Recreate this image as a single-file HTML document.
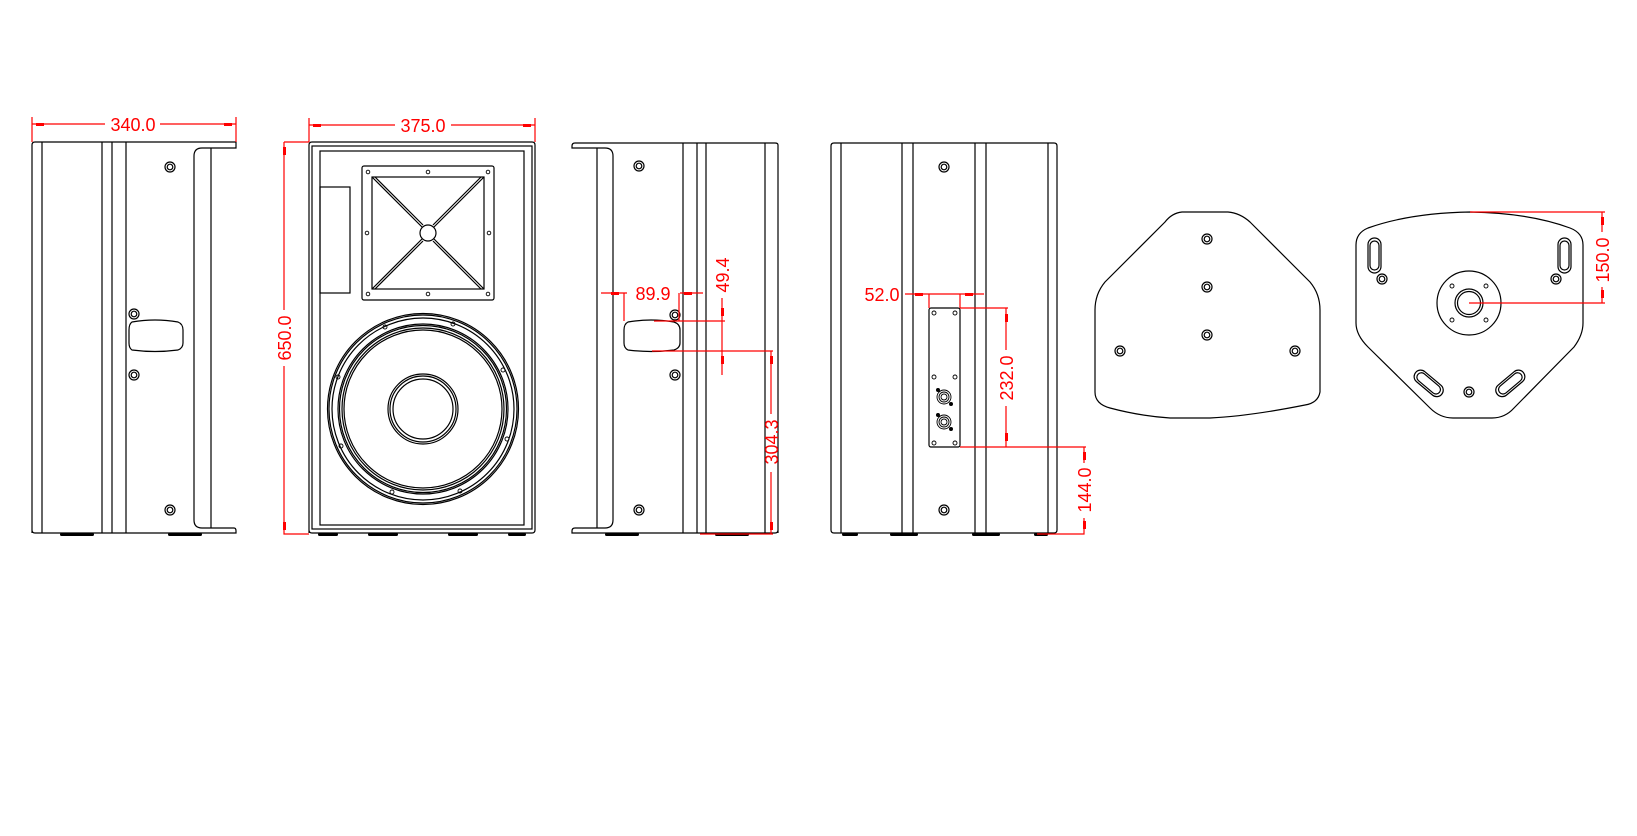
<!DOCTYPE html>
<html><head><meta charset="utf-8"><style>
html,body{margin:0;padding:0;background:#fff;}
svg{display:block;}
text{font-family:"Liberation Sans",sans-serif;font-size:18px;fill:#ff0000;}
</style></head><body>
<svg width="1637" height="836" viewBox="0 0 1637 836" xmlns="http://www.w3.org/2000/svg">
<g fill="none" stroke="#000" stroke-width="1.2">
<!-- VIEW 1 -->
<path d="M32,533 V145 Q32,142 35,142 H236 V148 H202 Q194,148 194,156 V520 Q194,528 202,528 H234 Q236,528 236,531 V533 H35 Q32,533 32,530"/>
<line x1="42" y1="142" x2="42" y2="533"/><line x1="102" y1="142" x2="102" y2="533"/>
<line x1="112" y1="142" x2="112" y2="533"/><line x1="126" y1="142" x2="126" y2="533"/>
<line x1="211" y1="148" x2="211" y2="528"/>
<circle cx="170" cy="167" r="5"/><circle cx="170" cy="167" r="2.8"/>
<circle cx="134" cy="314" r="5"/><circle cx="134" cy="314" r="2.8"/>
<circle cx="134" cy="375" r="5"/><circle cx="134" cy="375" r="2.8"/>
<circle cx="170" cy="510" r="5"/><circle cx="170" cy="510" r="2.8"/>
<path d="M132,322 Q155,318 178,322 Q183,324 183,330 V343 Q183,348 178,350 Q155,353 132,350 Q129,348 129,343 V330 Q129,324 132,322Z"/>
<!-- VIEW 2 -->
<path d="M309,533 V145 Q309,142 312,142 H532 Q535,142 535,145 V530 Q535,533 532,533 H312 Q309,533 309,530"/>
<rect x="312" y="146" width="220" height="383"/>
<rect x="320" y="151" width="204" height="374"/>
<rect x="320" y="187" width="30" height="106"/>
<rect x="362" y="166" width="132" height="134" rx="2"/>
<rect x="372" y="177" width="112" height="112"/>
<circle cx="428" cy="233" r="8"/>
<path d="M372,177 L422,227 M375,177 L423,225 M484,177 L434,227 M481,177 L433,225 M372,289 L422,239 M375,289 L423,241 M484,289 L434,239 M481,289 L433,241"/>
<g stroke-width="0.9">
<circle cx="368" cy="172" r="1.8"/><circle cx="428" cy="172" r="1.8"/><circle cx="488" cy="172" r="1.8"/>
<circle cx="367" cy="233" r="1.8"/><circle cx="489" cy="233" r="1.8"/>
<circle cx="368" cy="294" r="1.8"/><circle cx="428" cy="294" r="1.8"/><circle cx="488" cy="294" r="1.8"/>
</g>
<circle cx="423" cy="409" r="95.5"/><circle cx="423" cy="409" r="94"/><circle cx="423" cy="409" r="91"/>
<circle cx="423" cy="409" r="85"/><circle cx="423" cy="409" r="83.5"/><circle cx="423" cy="409" r="81"/><circle cx="423" cy="409" r="79"/>
<circle cx="423" cy="409" r="35"/><circle cx="423" cy="409" r="33"/><circle cx="423" cy="409" r="30"/>
<g stroke-width="0.9">
<circle cx="385" cy="327" r="2"/><circle cx="453" cy="324" r="2"/><circle cx="503" cy="370" r="2"/><circle cx="507" cy="439" r="2"/>
<circle cx="460" cy="491" r="2"/><circle cx="392" cy="492" r="2"/><circle cx="341" cy="446" r="2"/><circle cx="338" cy="377" r="2"/>
</g>
<!-- VIEW 3 -->
<path d="M778,533 V145 Q778,143 775,143 H575 Q572,143 572,146 V148 H605 Q613,148 613,156 V520 Q613,528 605,528 H575 Q572,528 572,531 V533 H775 Q778,533 778,530"/>
<line x1="597" y1="148" x2="597" y2="528"/>
<line x1="683" y1="143" x2="683" y2="533"/><line x1="697" y1="143" x2="697" y2="533"/>
<line x1="706" y1="143" x2="706" y2="533"/><line x1="765" y1="143" x2="765" y2="533"/>
<circle cx="639" cy="166" r="5"/><circle cx="639" cy="166" r="2.8"/>
<circle cx="675" cy="315" r="5"/><circle cx="675" cy="315" r="2.8"/>
<circle cx="675" cy="375" r="5"/><circle cx="675" cy="375" r="2.8"/>
<circle cx="639" cy="510" r="5"/><circle cx="639" cy="510" r="2.8"/>
<path d="M628,322 Q651,318 674,322 Q680,324 680,330 V343 Q680,348 674,350 Q651,353 628,350 Q624,348 624,343 V330 Q624,324 628,322Z"/>
<!-- VIEW 4 -->
<path d="M831,530 V146 Q831,143 834,143 H1054 Q1057,143 1057,146 V530 Q1057,533 1054,533 H834 Q831,533 831,530"/>
<line x1="841" y1="143" x2="841" y2="533"/><line x1="902" y1="143" x2="902" y2="533"/>
<line x1="913" y1="143" x2="913" y2="533"/><line x1="975" y1="143" x2="975" y2="533"/>
<line x1="986" y1="143" x2="986" y2="533"/><line x1="1048" y1="143" x2="1048" y2="533"/>
<circle cx="944" cy="167" r="5"/><circle cx="944" cy="167" r="2.8"/>
<circle cx="944" cy="510" r="5"/><circle cx="944" cy="510" r="2.8"/>
<rect x="929" y="308" width="31" height="139" rx="2"/>
<g stroke-width="0.9">
<circle cx="934" cy="313" r="2"/><circle cx="955" cy="313" r="2"/><circle cx="934" cy="377" r="2"/><circle cx="955" cy="377" r="2"/>
<circle cx="934" cy="443" r="2"/><circle cx="955" cy="443" r="2"/>
<circle cx="944" cy="397" r="7"/><circle cx="944" cy="397" r="5"/><circle cx="944" cy="397" r="3"/>
<circle cx="944" cy="422" r="7"/><circle cx="944" cy="422" r="5"/><circle cx="944" cy="422" r="3"/>
</g>
<g fill="#000" stroke="none"><circle cx="938" cy="390" r="2"/><circle cx="951" cy="404" r="2"/><circle cx="938" cy="415" r="2"/><circle cx="951" cy="429" r="2"/></g>
<!-- VIEW 5 -->
<path d="M1182,212 H1228 Q1240,213 1250,222 L1310,282 Q1320,294 1320,310 V392 Q1318,403 1305,405 Q1250,416 1210,418 H1170 Q1140,416 1110,408 Q1095,404 1095,392 V310 Q1095,294 1105,282 L1165,222 Q1172,213 1182,212Z"/>
<circle cx="1207" cy="239" r="5"/><circle cx="1207" cy="239" r="2.8"/>
<circle cx="1207" cy="287" r="5"/><circle cx="1207" cy="287" r="2.8"/>
<circle cx="1207" cy="335" r="5"/><circle cx="1207" cy="335" r="2.8"/>
<circle cx="1120" cy="351" r="5"/><circle cx="1120" cy="351" r="2.8"/>
<circle cx="1295" cy="351" r="5"/><circle cx="1295" cy="351" r="2.8"/>
<!-- VIEW 6 -->
<path d="M1470,212 Q1530,213 1570,228 Q1583,233 1583,245 V323 Q1583,335 1574,347 L1514,408 Q1505,418 1492,418 H1453 Q1440,418 1430,408 L1368,347 Q1356,335 1356,323 V245 Q1356,233 1368,228 Q1410,213 1470,212Z"/>
<circle cx="1469" cy="303" r="32"/><circle cx="1469" cy="303" r="14"/><circle cx="1469" cy="303" r="11.5"/>
<g stroke-width="0.9">
<circle cx="1452" cy="286" r="2"/><circle cx="1486" cy="286" r="2"/><circle cx="1452" cy="320" r="2"/><circle cx="1486" cy="320" r="2"/>
</g>
<rect x="1368" y="238" width="13" height="35" rx="6.5"/><rect x="1370" y="241" width="9" height="29" rx="4.5"/>
<rect x="1558" y="238" width="13" height="35" rx="6.5"/><rect x="1560" y="241" width="9" height="29" rx="4.5"/>
<circle cx="1382" cy="279" r="5"/><circle cx="1382" cy="279" r="2.8"/>
<circle cx="1556" cy="279" r="5"/><circle cx="1556" cy="279" r="2.8"/>
<rect x="1412" y="377" width="34" height="13" rx="6.5" transform="rotate(40 1429 383)"/>
<rect x="1415" y="379" width="28" height="9" rx="4.5" transform="rotate(40 1429 383)"/>
<rect x="1493" y="377" width="34" height="13" rx="6.5" transform="rotate(-40 1510 383)"/>
<rect x="1496" y="379" width="28" height="9" rx="4.5" transform="rotate(-40 1510 383)"/>
<circle cx="1469" cy="392" r="5"/><circle cx="1469" cy="392" r="2.8"/>
</g>
<!-- feet -->
<g fill="#000">
<rect x="60" y="533" width="34" height="3" rx="1.5"/><rect x="168" y="533" width="34" height="3" rx="1.5"/>
<rect x="318" y="533" width="20" height="3" rx="1.5"/><rect x="368" y="533" width="30" height="3" rx="1.5"/>
<rect x="448" y="533" width="30" height="3" rx="1.5"/><rect x="508" y="533" width="18" height="3" rx="1.5"/>
<rect x="605" y="533" width="34" height="3" rx="1.5"/><rect x="715" y="533" width="34" height="3" rx="1.5"/>
<rect x="842" y="533" width="16" height="3" rx="1.5"/><rect x="890" y="533" width="28" height="3" rx="1.5"/>
<rect x="972" y="533" width="28" height="3" rx="1.5"/><rect x="1034" y="533" width="14" height="3" rx="1.5"/>
</g>
<!-- dimensions -->
<g stroke="#ff0000" stroke-width="1.2" fill="none">
<path d="M32,117 V142 M236,117 V142 M32,124 H105 M160,124 H236"/>
<path d="M309,118 V142 M535,118 V142 M309,125 H395 M451,125 H535"/>
<path d="M284,142 H309 M284,142 V310 M284,366 V534 H309"/>
<path d="M601,293 H627 M680,293 H703 M624,293 V321 M679,293 V321"/>
<path d="M654,321 H725 M652,351 H773 M722,298 V375"/>
<path d="M771,351 V414 M771,472 V534 M700,534 H773"/>
<path d="M905,294 H984 M929,294 V308 M960,294 V308"/>
<path d="M960,308 H1008 M1006,308 V350 M1006,406 V447 M960,447 H1086"/>
<path d="M1084,447 V463 M1084,518 V534 H1037"/>
<path d="M1470,212 H1605 M1469,303 H1605 M1602,212 V232 M1602,287 V303"/>
</g>
<g fill="#ff0000">
<rect x="36" y="123" width="8" height="3"/><rect x="224" y="123" width="8" height="3"/>
<rect x="313" y="124" width="8" height="3"/><rect x="523" y="124" width="8" height="3"/>
<rect x="283" y="147" width="3" height="8"/><rect x="283" y="522" width="3" height="8"/>
<rect x="611" y="292" width="8" height="3"/><rect x="684" y="292" width="8" height="3"/>
<rect x="721" y="308" width="3" height="8"/><rect x="721" y="356" width="3" height="8"/>
<rect x="770" y="356" width="3" height="8"/><rect x="770" y="522" width="3" height="8"/>
<rect x="915" y="293" width="8" height="3"/><rect x="965" y="293" width="8" height="3"/>
<rect x="1005" y="314" width="3" height="8"/><rect x="1005" y="433" width="3" height="8"/>
<rect x="1083" y="452" width="3" height="8"/><rect x="1083" y="521" width="3" height="8"/>
<rect x="1601" y="217" width="3" height="8"/><rect x="1601" y="290" width="3" height="8"/>
</g>
<text x="133" y="131" text-anchor="middle">340.0</text>
<text x="423" y="132" text-anchor="middle">375.0</text>
<text transform="translate(291,338) rotate(-90)" text-anchor="middle">650.0</text>
<text x="653" y="300" text-anchor="middle">89.9</text>
<text transform="translate(729,275) rotate(-90)" text-anchor="middle">49.4</text>
<text transform="translate(778,442) rotate(-90)" text-anchor="middle">304.3</text>
<text x="882" y="301" text-anchor="middle">52.0</text>
<text transform="translate(1013,378) rotate(-90)" text-anchor="middle">232.0</text>
<text transform="translate(1091,490) rotate(-90)" text-anchor="middle">144.0</text>
<text transform="translate(1609,260) rotate(-90)" text-anchor="middle">150.0</text>
</svg>
</body></html>
